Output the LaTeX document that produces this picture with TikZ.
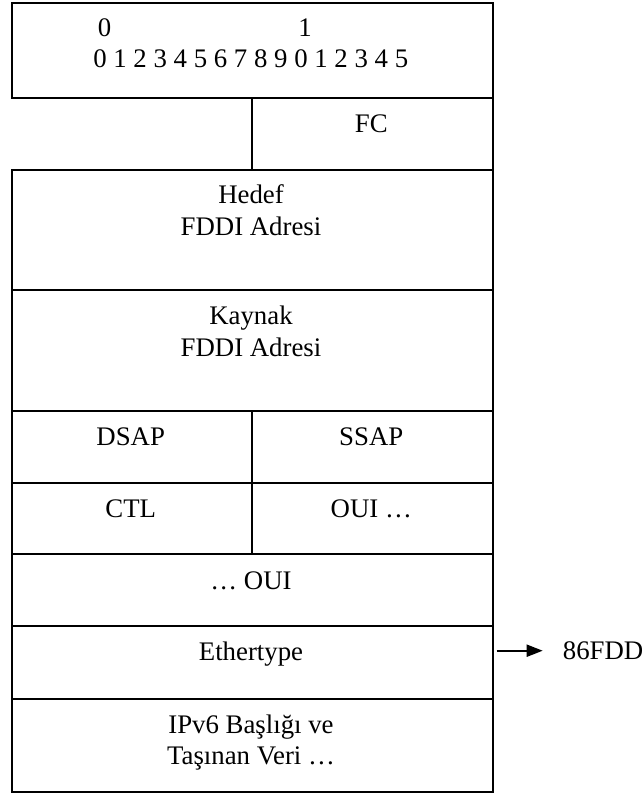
\documentclass[tikz,border=0pt]{standalone}
\usepackage{fontspec}
\setmainfont{Liberation Serif}
\usetikzlibrary{arrows.meta}
\begin{document}
\begin{tikzpicture}[x=1pt,y=-1pt,
  cell/.style={draw, line width=2pt, inner sep=0pt, anchor=north west},
  txt/.style={inner sep=0pt, anchor=base, font=\fontsize{26.8}{32}\selectfont},
  pointer/.style={line width=2pt, -{Triangle[length=16pt,width=12pt]}}]
\useasboundingbox (0,0) rectangle (644,794);
% bit ruler row
\node[cell, minimum width=481pt, minimum height=94.5pt] (ruler) at (10.5,2.5) {};
\node[txt] (tens0) at (104.5,36.7) {0};
\node[txt] (tens1) at (305,36.7) {1};
\node[txt] (bits) at (250.7,67.7) {0 1 2 3 4 5 6 7 8 9 0 1 2 3 4 5};
% frame control
\node[cell, minimum width=240.5pt, minimum height=72pt] (fc) at (251,97) {};
\node[txt] (fct) at (371.25,133) {FC};
% addresses
\node[cell, minimum width=481pt, minimum height=120pt] (dst) at (10.5,169) {};
\node[txt] (dst1) at (251,204) {Hedef};
\node[txt] (dst2) at (251,236) {FDDI Adresi};
\node[cell, minimum width=481pt, minimum height=121pt] (src) at (10.5,289) {};
\node[txt] (src1) at (251,324) {Kaynak};
\node[txt] (src2) at (251,356) {FDDI Adresi};
% LLC / SNAP fields
\node[cell, minimum width=240.5pt, minimum height=71.5pt] (dsap) at (10.5,410) {};
\node[cell, minimum width=240.5pt, minimum height=71.5pt] (ssap) at (251,410) {};
\node[txt] (dsapt) at (130.75,445.7) {DSAP};
\node[txt] (ssapt) at (371.25,445.7) {SSAP};
\node[cell, minimum width=240.5pt, minimum height=71.5pt] (ctl) at (10.5,481.5) {};
\node[cell, minimum width=240.5pt, minimum height=71.5pt] (oui1) at (251,481.5) {};
\node[txt] (ctlt) at (130.75,517.5) {CTL};
\node[txt] (oui1t) at (371.25,517.5) {OUI …};
\node[cell, minimum width=481pt, minimum height=72pt] (oui2) at (10.5,553) {};
\node[txt] (oui2t) at (251,589.5) {… OUI};
\node[cell, minimum width=481pt, minimum height=73pt] (eth) at (10.5,625) {};
\node[txt] (etht) at (251,660.5) {Ethertype};
\node[cell, minimum width=481pt, minimum height=93pt] (data) at (10.5,698) {};
\node[txt] (data1) at (251,733) {IPv6 Başlığı ve};
\node[txt] (data2) at (251,764.5) {Taşınan Veri …};
% ethertype value
\node[txt, anchor=base west] (val) at (562.7,659) {86FDD};
\coordinate (from) at (496.7,650.7);
\draw[pointer] (from) -- (from -| val.west) [shorten >=20pt];
\end{tikzpicture}
\end{document}
